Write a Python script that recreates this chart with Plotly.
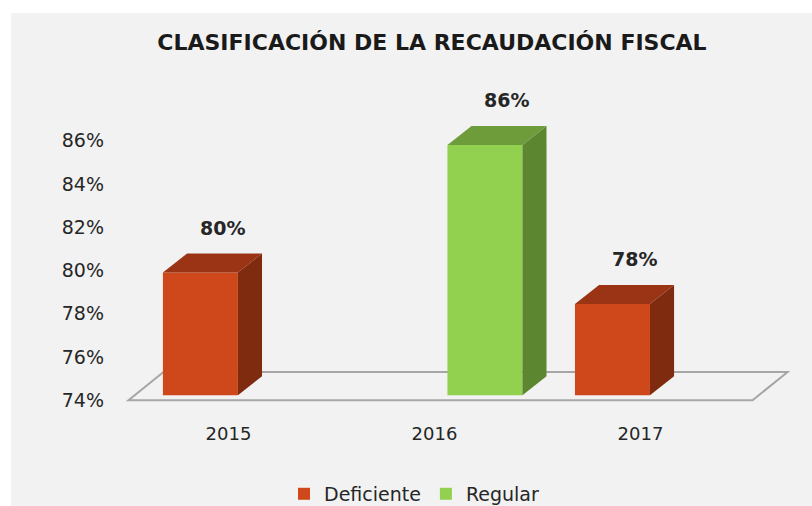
import plotly.graph_objects as go

# ---- data ----
years = ["2015", "2016", "2017"]
series_names = ["Deficiente", "Regular"]
deficiente = [0.799, None, 0.7845]
regular = [None, 0.858, None]
y_ticks = [0.74, 0.76, 0.78, 0.80, 0.82, 0.84, 0.86]

# ---- style ----
BASE = 0.7423
FRONT = {"Deficiente": "#CE481C", "Regular": "#92D050"}
TOP = {"Deficiente": "#9A3414", "Regular": "#6F9C3B"}
SIDE = {"Deficiente": "#7E2B0F", "Regular": "#5D8630"}
OFFSET = {"Deficiente": -0.136, "Regular": 0.245}
BAR_W = 0.364
DX, DY = 0.117, 0.0088          # bar depth (x units, y units)
FDX, FDY = 0.17, 0.013          # floor depth
FLOOR_X0, FLOOR_X1 = -0.485, 2.544
FONT = "DejaVu Sans"
TXT = "#262626"

fig = go.Figure()

# floor (drawn below the bars as a shape)
fy0 = y_ticks[0]
floor_path = (f"M {FLOOR_X0},{fy0} L {FLOOR_X1},{fy0} "
              f"L {FLOOR_X1 + FDX},{fy0 + FDY} L {FLOOR_X0 + FDX},{fy0 + FDY} Z")

annotations = []
for name, vals in zip(series_names, [deficiente, regular]):
    xs, ys = [], []
    sx, sy, tx, ty = [], [], [], []
    for i, v in enumerate(vals):
        if v is None:
            continue
        xc = i + OFFSET[name]
        xs.append(xc)
        ys.append(v - BASE)
        l, r = xc - BAR_W / 2, xc + BAR_W / 2
        sx += [r, r + DX, r + DX, r, r, None]
        sy += [BASE, BASE + DY, v + DY, v, BASE, None]
        tx += [l, l + DX, r + DX, r, l, None]
        ty += [v, v + DY, v + DY, v, v, None]
        annotations.append(dict(
            x=xc + DX * 0.9, y=v + DY, xref="x", yref="y", text=f"<b>{v:.0%}</b>",
            showarrow=False, yanchor="bottom", yshift=13,
            font=dict(family=FONT, size=19, color=TXT)))
    fig.add_trace(go.Bar(
        x=xs, y=ys, base=BASE, width=BAR_W, name=name,
        marker=dict(color=FRONT[name], line=dict(width=0))))
    fig.add_trace(go.Scatter(x=sx, y=sy, fill="toself", mode="lines",
                             fillcolor=SIDE[name], line=dict(width=0, color=SIDE[name]),
                             showlegend=False, hoverinfo="skip"))
    fig.add_trace(go.Scatter(x=tx, y=ty, fill="toself", mode="lines",
                             fillcolor=TOP[name], line=dict(width=0, color=TOP[name]),
                             showlegend=False, hoverinfo="skip"))

fig.update_layout(
    width=812, height=506,
    margin=dict(l=111, r=17, t=119, b=95, autoexpand=False),
    paper_bgcolor="white",
    plot_bgcolor="rgba(0,0,0,0)",
    title=dict(text="<b>CLASIFICACIÓN DE LA RECAUDACIÓN FISCAL</b>",
               x=0.532, xanchor="center", y=0.917, yanchor="middle",
               font=dict(family=FONT, size=22, color="#1a1a1a")),
    barmode="overlay",
    showlegend=True,
    legend=dict(orientation="h", x=0.443, xanchor="center", y=-0.284, yanchor="middle",
                font=dict(family=FONT, size=19, color=TXT),
                bgcolor="rgba(0,0,0,0)", traceorder="normal"),
    annotations=annotations,
    shapes=[dict(type="rect", xref="paper", yref="paper",
                 x0=-0.146, x1=1.1, y0=-0.4, y1=1.363,
                 fillcolor="#F2F2F2", line=dict(width=0), layer="below"),
            dict(type="path", xref="x", yref="y", path=floor_path,
                 line=dict(color="#A6A6A6", width=2), layer="below")],
)
fig.update_xaxes(range=[-0.57, 2.75], tickvals=[0, 1, 2], ticktext=years,
                 showgrid=False, zeroline=False, showline=False,
                 ticks="outside", ticklen=6, tickcolor="rgba(0,0,0,0)",
                 tickfont=dict(family=FONT, size=18, color=TXT))
fig.update_yaxes(range=[0.735, 0.87], tickvals=y_ticks, tickformat=".0%",
                 showgrid=False, zeroline=False, showline=False,
                 ticklabelstandoff=6,
                 tickfont=dict(family=FONT, size=19, color=TXT))

fig.write_html("out.html",
               config={"displayModeBar": False},
               post_script="document.body.style.margin='0';document.body.style.overflow='hidden';")
